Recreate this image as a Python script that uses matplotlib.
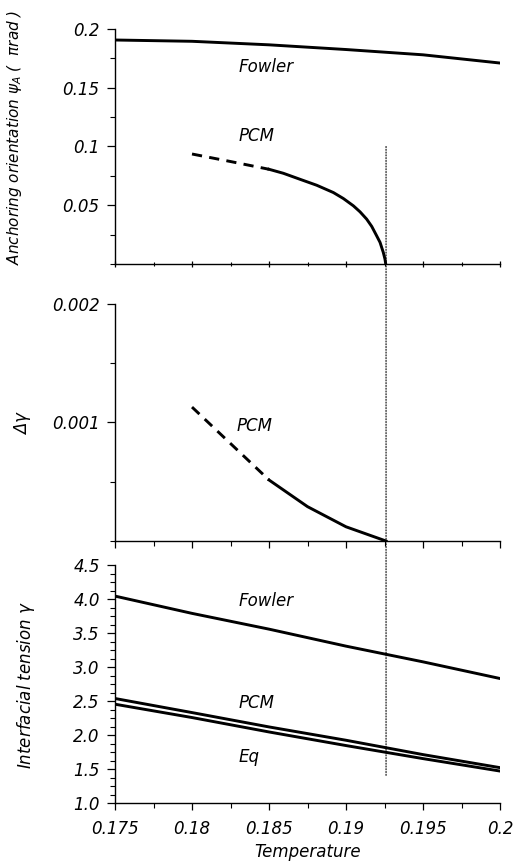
import matplotlib
matplotlib.use("Agg")
import matplotlib.pyplot as plt
from matplotlib.patches import ConnectionPatch
from matplotlib.ticker import MultipleLocator, FixedLocator

# --- data ---
t_c = 0.1926

# anchoring orientation (pi rad)
t_fowler = [0.175, 0.18, 0.185, 0.19, 0.195, 0.2]
psi_fowler = [0.1906, 0.1895, 0.1865, 0.1825, 0.178, 0.171]

t_psi_pcm_dash = [0.18, 0.1825, 0.185]
psi_pcm_dash = [0.0936, 0.0872, 0.0806]
t_psi_pcm = [0.185, 0.18593, 0.18701, 0.1881, 0.18918, 0.18983, 0.19048, 0.19091,
             0.19134, 0.19167, 0.19199, 0.19221, 0.19242, 0.19253, 0.19258]
psi_pcm = [0.0806, 0.0772, 0.0721, 0.067, 0.0608, 0.0557, 0.0495, 0.0444,
           0.0382, 0.032, 0.024, 0.0184, 0.0099, 0.0042, 0.0]

# delta gamma
t_dg_dash = [0.18, 0.185]
dg_dash = [0.00113, 0.000515]
t_dg = [0.185, 0.1875, 0.19, 0.1926]
dg = [0.000515, 0.00029, 0.00012, 0.0]

# interfacial tension
t_gamma = [0.175, 0.18, 0.185, 0.19, 0.195, 0.2]
gamma_fowler = [4.043, 3.789, 3.557, 3.307, 3.076, 2.831]
gamma_pcm = [2.537, 2.33, 2.119, 1.923, 1.712, 1.52]
gamma_eq = [2.453, 2.257, 2.045, 1.845, 1.653, 1.47]

x_ticks = [0.175, 0.18, 0.185, 0.19, 0.195, 0.2]
x_labels = ["0.175", "0.18", "0.185", "0.19", "0.195", "0.2"]

plt.rcParams["font.family"] = ["DejaVu Sans"]
plt.rcParams["font.style"] = "italic"

fig = plt.figure(figsize=(5.29, 8.67), dpi=100)
left, width = 0.2174, 0.7278
ax1 = fig.add_axes([left, 0.6955, width, 0.2711])
ax2 = fig.add_axes([left, 0.3760, width, 0.2734])
ax3 = fig.add_axes([left, 0.0738, width, 0.2745])

lw = 2.1
k = "black"
fs = 12

def style(ax, xdir):
    ax.spines["top"].set_visible(False)
    ax.spines["right"].set_visible(False)
    ax.set_xlim(0.175, 0.2)
    ax.xaxis.set_major_locator(FixedLocator(x_ticks))
    ax.xaxis.set_minor_locator(MultipleLocator(0.0025))
    ax.tick_params(axis="x", which="major", direction=xdir, length=5, width=0.9)
    ax.tick_params(axis="x", which="minor", direction=xdir, length=3.5, width=0.8)
    ax.tick_params(axis="y", which="major", direction="out", length=6, width=0.9,
                   pad=5, labelsize=fs)
    ax.tick_params(axis="y", which="minor", direction="out", length=3.5, width=0.8)
    for s in ("left", "bottom"):
        ax.spines[s].set_linewidth(1.0)

# top panel
style(ax1, "inout")
ax1.plot(t_fowler, psi_fowler, color=k, lw=lw)
ax1.plot(t_psi_pcm_dash, psi_pcm_dash, color=k, lw=lw, dashes=(3.5, 2.5))
ax1.plot(t_psi_pcm, psi_pcm, color=k, lw=lw)
ax1.set_ylim(0, 0.2)
ax1.set_yticks([0.05, 0.1, 0.15, 0.2])
ax1.set_yticklabels(["0.05", "0.1", "0.15", "0.2"])
ax1.yaxis.set_minor_locator(MultipleLocator(0.025))
ax1.set_xticklabels([])
ax1.text(0.18305, 0.168, "Fowler", fontsize=fs, va="center")
ax1.text(0.18305, 0.1086, "PCM", fontsize=fs, va="center")
ax1.set_ylabel(r"Anchoring orientation $\psi_A$ (  $\pi rad$ )", fontsize=11)
ax1.yaxis.set_label_coords(-0.236, 0.54)

# middle panel
style(ax2, "out")
ax2.plot(t_dg_dash, dg_dash, color=k, lw=lw, dashes=(3.5, 2.5))
ax2.plot(t_dg, dg, color=k, lw=lw)
ax2.set_ylim(0, 0.002)
ax2.set_yticks([0.001, 0.002])
ax2.set_yticklabels(["0.001", "0.002"])
ax2.yaxis.set_minor_locator(MultipleLocator(0.0005))
ax2.set_xticklabels([])
ax2.text(0.18286, 0.00097, "PCM", fontsize=fs, va="center")
ax2.set_ylabel(r"$\Delta\gamma$", fontsize=fs)
ax2.yaxis.set_label_coords(-0.213, 0.5)

# bottom panel
style(ax3, "out")
ax3.plot(t_gamma, gamma_fowler, color=k, lw=lw)
ax3.plot(t_gamma, gamma_pcm, color=k, lw=lw)
ax3.plot(t_gamma, gamma_eq, color=k, lw=lw)
ax3.set_ylim(1.0, 4.5)
ax3.set_yticks([1.0, 1.5, 2.0, 2.5, 3.0, 3.5, 4.0, 4.5])
ax3.set_yticklabels(["1.0", "1.5", "2.0", "2.5", "3.0", "3.5", "4.0", "4.5"])
ax3.yaxis.set_minor_locator(MultipleLocator(0.125))
ax3.set_xticklabels(x_labels)
ax3.tick_params(axis="x", which="major", labelsize=fs, pad=7)
ax3.text(0.18303, 3.974, "Fowler", fontsize=fs, va="center")
ax3.text(0.18303, 2.472, "PCM", fontsize=fs, va="center")
ax3.text(0.18303, 1.677, "Eq", fontsize=fs, va="center")
ax3.set_ylabel(r"Interfacial tension $\gamma$", fontsize=fs)
ax3.yaxis.set_label_coords(-0.203, 0.496)
ax3.set_xlabel("Temperature", fontsize=fs, labelpad=4)

# dotted line at the transition, running through all three panels
cp = ConnectionPatch(xyA=(t_c, 0.1), coordsA=ax1.transData,
                     xyB=(t_c, 1.4), coordsB=ax3.transData,
                     color=k, lw=0.8, linestyle=(0, (1, 1.5)))
fig.add_artist(cp)

fig.savefig("out.png", dpi=100)
